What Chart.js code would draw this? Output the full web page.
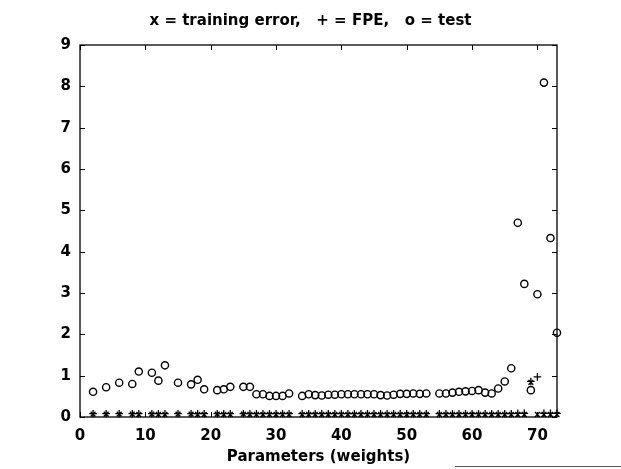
<!DOCTYPE html>
<html>
<head>
<meta charset="utf-8">
<script src="https://cdn.jsdelivr.net/npm/chart.js@4.4.1/dist/chart.umd.min.js"></script>
<style>
  html, body { margin: 0; padding: 0; background: #fff; }
  canvas { display: block; }
</style>
</head>
<body>
<canvas id="errChart" width="621" height="469"></canvas>
<script>
// number of weights in each network
const params = [2, 4, 6, 8, 9, 11, 12, 13, 15, 17, 18, 19, 21, 22, 23,
    25, 26, 27, 28, 29, 30, 31, 32,
    34, 35, 36, 37, 38, 39, 40, 41, 42, 43, 44, 45, 46, 47, 48, 49, 50, 51, 52, 53,
    55, 56, 57, 58, 59, 60, 61, 62, 63, 64, 65, 66, 67, 68, 69, 70, 71, 72, 73];

const testErr = [0.61, 0.72, 0.83, 0.80, 1.10, 1.07, 0.88, 1.25, 0.83, 0.79, 0.90, 0.67, 0.65, 0.67, 0.73,
    0.73, 0.73, 0.55, 0.55, 0.51, 0.51, 0.51, 0.57,
    0.51, 0.55, 0.53, 0.52, 0.54, 0.54, 0.55, 0.55, 0.55, 0.55, 0.55, 0.55, 0.53, 0.52, 0.54, 0.56, 0.56, 0.57, 0.56, 0.57,
    0.57, 0.57, 0.59, 0.61, 0.62, 0.63, 0.65, 0.59, 0.57, 0.69, 0.86, 1.18, 4.70, 3.22, 0.65, 2.97, 8.09, 4.33, 2.04];

const trainErr = [0.07, 0.07, 0.07, 0.07, 0.06, 0.07, 0.06, 0.06, 0.07, 0.07, 0.06, 0.06, 0.07, 0.06, 0.06,
    0.07, 0.06, 0.06, 0.06, 0.06, 0.06, 0.06, 0.06,
    0.06, 0.06, 0.06, 0.06, 0.06, 0.06, 0.06, 0.06, 0.06, 0.06, 0.06, 0.06, 0.06, 0.06, 0.06, 0.06, 0.06, 0.06, 0.06, 0.06,
    0.06, 0.06, 0.06, 0.06, 0.06, 0.06, 0.06, 0.06, 0.06, 0.06, 0.06, 0.06, 0.06, 0.06, 0.84, 0.06, 0.06, 0.06, 0.06];

const fpeErr = [0.08, 0.08, 0.08, 0.08, 0.08, 0.08, 0.08, 0.08, 0.08, 0.08, 0.08, 0.08, 0.08, 0.08, 0.08,
    0.08, 0.08, 0.08, 0.08, 0.08, 0.08, 0.08, 0.08,
    0.08, 0.08, 0.08, 0.08, 0.08, 0.08, 0.08, 0.08, 0.08, 0.08, 0.08, 0.08, 0.08, 0.08, 0.08, 0.08, 0.08, 0.08, 0.08, 0.08,
    0.08, 0.08, 0.08, 0.08, 0.08, 0.08, 0.08, 0.08, 0.08, 0.08, 0.08, 0.08, 0.09, 0.09, 0.86, 0.97, 0.09, 0.09, 0.09];

const xTicks = [0, 10, 20, 30, 40, 50, 60, 70];
const yTicks = [0, 1, 2, 3, 4, 5, 6, 7, 8, 9];

function pts(ys) {
    return params.map(function (p, i) { return { x: p, y: ys[i] }; });
}

// box round the plot and little inward ticks, matlab style
const boxPlugin = {
    id: 'boxTicks',
    afterDraw(chart) {
        const ctx = chart.ctx;
        const a = chart.chartArea;
        const xs = chart.scales.x;
        const ys = chart.scales.y;
        ctx.save();
        ctx.strokeStyle = '#000';
        ctx.lineWidth = 1.3;
        ctx.strokeRect(a.left, a.top, a.right - a.left, a.bottom - a.top);
        ctx.lineWidth = 1;
        ctx.beginPath();
        xTicks.forEach(function (v) {
            const px = Math.round(xs.getPixelForValue(v)) + 0.5;
            ctx.moveTo(px, a.bottom); ctx.lineTo(px, a.bottom - 5);
            ctx.moveTo(px, a.top); ctx.lineTo(px, a.top + 5);
        });
        yTicks.forEach(function (v) {
            const py = Math.round(ys.getPixelForValue(v)) + 0.5;
            ctx.moveTo(a.left, py); ctx.lineTo(a.left + 5, py);
            ctx.moveTo(a.right, py); ctx.lineTo(a.right - 5, py);
        });
        ctx.stroke();
        // scan line at the bottom right
        ctx.strokeStyle = '#555';
        ctx.beginPath();
        ctx.moveTo(455, 466.5); ctx.lineTo(621, 466.5);
        ctx.stroke();
        ctx.restore();
    }
};

const textFont = { family: '"DejaVu Sans", sans-serif', size: 15, weight: 'bold' };

const errChart = new Chart(document.getElementById('errChart'), {
    type: 'scatter',
    data: {
        datasets: [{
            label: 'test',
            data: pts(testErr),
            pointStyle: 'circle',
            pointRadius: 3.6,
            borderWidth: 1.4,
            borderColor: '#000',
            backgroundColor: 'rgba(0,0,0,0)',
            clip: false
        }, {
            label: 'training error',
            data: pts(trainErr),
            pointStyle: 'crossRot',
            pointRadius: 3.4,
            borderWidth: 1.4,
            borderColor: '#000',
            clip: false
        }, {
            label: 'FPE',
            data: pts(fpeErr),
            pointStyle: 'cross',
            pointRadius: 3.8,
            borderWidth: 1.3,
            borderColor: '#000',
            clip: false
        }]
    },
    options: {
        responsive: false,
        animation: false,
        layout: { padding: 0 },
        scales: {
            x: {
                type: 'linear',
                min: 0,
                max: 73,
                afterFit: function (s) { s.height = 52; },
                grid: { display: false, drawTicks: false },
                border: { display: false },
                ticks: {
                    stepSize: 10,
                    includeBounds: false,
                    padding: 10,
                    color: '#000',
                    font: textFont
                },
                title: {
                    display: true,
                    text: 'Parameters (weights)',
                    color: '#000',
                    font: textFont,
                    padding: { top: 0, bottom: 3 }
                }
            },
            y: {
                min: 0,
                max: 9,
                afterFit: function (s) { s.width = 80; },
                grid: { display: false, drawTicks: false },
                border: { display: false },
                ticks: {
                    stepSize: 1,
                    padding: 9,
                    color: '#000',
                    font: textFont
                }
            },
            // empty axis on the right, only to keep the white margin there
            yRight: {
                position: 'right',
                min: 0,
                max: 9,
                afterFit: function (s) { s.width = 64; },
                grid: { display: false, drawTicks: false },
                border: { display: false },
                ticks: { display: false }
            }
        },
        plugins: {
            legend: { display: false },
            tooltip: { enabled: false },
            title: {
                display: true,
                text: 'x = training error,   + = FPE,   o = test',
                color: '#000',
                font: textFont,
                padding: { top: 12, bottom: 15 }
            }
        }
    },
    plugins: [boxPlugin]
});
</script>
</body>
</html>
